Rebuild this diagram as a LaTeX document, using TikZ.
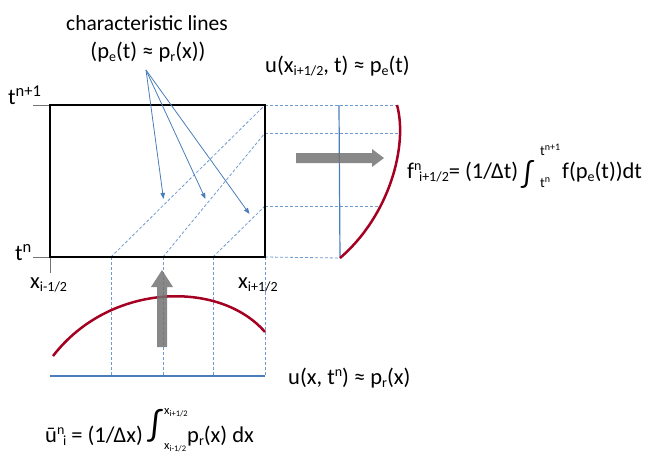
\documentclass[tikz,border=0pt]{standalone}
\usepackage{graphicx}
\usepackage{fontspec}
\setmainfont{Carlito}
\usetikzlibrary{arrows.meta}
\definecolor{lineblue}{HTML}{4A7EBB}
\definecolor{dashblue}{HTML}{6F9BD1}
\definecolor{curvered}{HTML}{A50021}
\newcommand{\lsub}[1]{\raisebox{-3pt}{\fontsize{14}{14}\selectfont #1}}
\newcommand{\lsup}[1]{\raisebox{7.5pt}{\fontsize{14}{14}\selectfont #1}}
\newcommand{\bsup}[1]{\raisebox{7.5pt}{\fontsize{16.5}{16.5}\selectfont #1}}
\newcommand{\lmsup}[1]{\raisebox{4.5pt}{\fontsize{10}{10}\selectfont #1}}
\newcommand{\lmsub}[1]{\raisebox{-2pt}{\fontsize{8.5}{8.5}\selectfont #1}}
\newcommand{\intsym}[1]{\resizebox*{!}{#1}{\fontsize{30}{30}\selectfont ∫}}
\tikzset{
  txt/.style={inner sep=0pt, font=\fontsize{22.5}{22.5}\selectfont},
  ttl/.style={inner sep=0pt, font=\fontsize{21.5}{21.5}\selectfont},
  limtxt/.style={inner sep=0pt, font=\fontsize{14}{14}\selectfont},
  limtxtb/.style={inner sep=0pt, font=\fontsize{12.5}{12.5}\selectfont},
  boxline/.style={line width=2.6pt, black},
  tick/.style={line width=0.9pt, black!55},
  dashln/.style={dashblue, line width=0.8pt, dash pattern=on 3pt off 2pt},
  solidblue/.style={lineblue, line width=1.2pt},
  redcurve/.style={curvered, line width=2.5pt},
  charrow/.style={lineblue, line width=0.8pt, -{Triangle[length=6pt,width=4.5pt]}},
  bigarrow/.style={fill=black!55, draw=none, opacity=0.85}
}
\begin{document}
\begin{tikzpicture}[x=1pt,y=-1pt]
\useasboundingbox (0,0) rectangle (651,456);
% key points
\coordinate (TL) at (50,105);
\coordinate (TR) at (265,105);
\coordinate (BL) at (50,257);
\coordinate (BR) at (265,257);
\coordinate (b1) at (111,257);
\coordinate (b2) at (163,257);
\coordinate (b3) at (213,257);
\coordinate (r2) at (265,133);
\coordinate (r3) at (265,206);
\coordinate (v0) at (50,376);
\coordinate (v1) at (111,376);
\coordinate (v2) at (163,376);
\coordinate (v3) at (213,376);
\coordinate (v4) at (265,376);
\coordinate (c0) at (397,105);
\coordinate (c1) at (400,133);
\coordinate (c2) at (381,206);
\coordinate (c3) at (340,258);
\coordinate (bt) at (339,105);
% ticks
\draw[tick] (33,105) -- (TL);
\draw[tick] (33,257) -- (BL);
\draw[tick] (BL) -- (50,273);
% dashed lines
\draw[dashln] (b1) -- (TR);
\draw[dashln] (b2) -- (r2);
\draw[dashln] (b3) -- (r3);
\draw[dashln] (b1) -- (v1);
\draw[dashln] (b2) -- (v2);
\draw[dashln] (b3) -- (v3);
\draw[dashln] (BR) -- (v4);
\draw[dashln] (TR) -- (c0);
\draw[dashln] (r2) -- (c1);
\draw[dashln] (r3) -- (c2);
\draw[dashln] (BR) -- (c3);
% solid blue lines
\draw[solidblue] (v0) -- (v4);
\draw[solidblue] (bt) -- (c3);
% red curves
\draw[redcurve] (c0) .. controls (408,145) and (390,215) .. (c3);
\draw[redcurve] (53,356) .. controls (110,282) and (220,280) .. (265,332);
% box
\draw[boxline] (TL) rectangle (BR);
% characteristic arrows
\coordinate (src) at (146,70);
\coordinate (a1) at (163.5,199);
\coordinate (a2) at (205.5,199);
\coordinate (a3) at (249.5,214);
\draw[charrow] (src) -- (a1);
\draw[charrow] (src) -- (a2);
\draw[charrow] (src) -- (a3);
% big gray arrows
\fill[bigarrow] (296,153) -- (372,153) -- (372,149) -- (384,158) -- (372,167) -- (372,163) -- (296,163) -- cycle;
\fill[bigarrow] (157,347) -- (157,287) -- (151,287) -- (162,270) -- (173,287) -- (167,287) -- (167,347) -- cycle;
% texts
\node[ttl, anchor=base] (cl) at (147,30) {characteristic lines};
\node[txt, anchor=base] (cl2) at (148,58) {(p\lsub{e}(t) ≈ p\lsub{r}(x))};
\node[txt, anchor=base west] (ue) at (265,72) {u(x\lsub{i+1/2}, t) ≈ p\lsub{e}(t)};
% flux formula
\node[txt, anchor=base west] (fl) at (407,178) {f\rlap{\lsup{n}}\hspace{5pt}\lsub{i+1/2}= (1/Δt)};
\node[inner sep=0pt] (fint) at (527.5,174) {\intsym{28pt}};
\node[limtxt, anchor=base west] (fup) at (540,155) {t\lmsup{n+1}};
\node[limtxt, anchor=base west] (flo) at (540,187) {t\lmsup{n}};
\node[txt, anchor=base west] (fr) at (562,178) {f(p\lsub{e}(t))dt};
% axis labels
\node[txt, anchor=base west] (tn1) at (8,104) {t\bsup{n+1}};
\node[txt, anchor=base west] (tn) at (15,260) {t\bsup{n}};
\node[txt, anchor=base west] (xl) at (30,288) {x\lsub{i-1/2}};
\node[txt, anchor=base west] (xr) at (238,288) {x\lsub{i+1/2}};
\node[txt, anchor=base west] (ur) at (288,384) {u(x, t\lsup{n}) ≈ p\lsub{r}(x)};
% average formula
\node[txt, anchor=base west] (ub) at (45,442) {ū\rlap{\lsup{n}}\hspace{6pt}\lsub{i} = (1/Δx)};
\node[inner sep=0pt] (uint) at (155,426) {\intsym{33pt}};
\node[limtxtb, anchor=base west] (uup) at (164,414) {x\lmsub{i+1/2}};
\node[limtxtb, anchor=base west] (ulo) at (164,449) {x\lmsub{i-1/2}};
\node[txt, anchor=base west] (ubr) at (187,442) {p\lsub{r}(x) dx};
\end{tikzpicture}
\end{document}
